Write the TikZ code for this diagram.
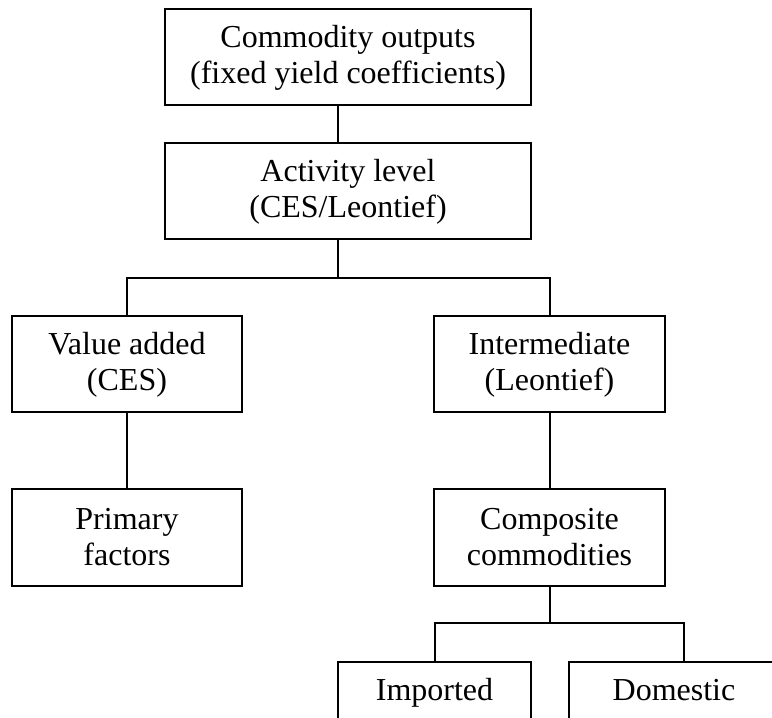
\documentclass[tikz,border=0pt]{standalone}
\usepackage{fontspec}
\setmainfont{Liberation Serif}
\newcommand{\lnstrut}{\rule[-4pt]{0pt}{28pt}}
\newcommand{\lowstrut}{\rule[-44pt]{0pt}{68pt}}
\begin{document}
\begin{tikzpicture}[x=1pt,y=-1pt,
  box/.style={draw=black, line width=2pt, rectangle, inner sep=0pt, align=center,
    font=\fontsize{32}{36}\selectfont},
  link/.style={draw=black, line width=2pt}]
\useasboundingbox (0,0) rectangle (772,718);
\clip (0,0) rectangle (772,718);
\node[box, minimum width=366pt, minimum height=96pt] (top) at (348,57)
  {\lnstrut Commodity outputs\\\lnstrut (fixed yield coefficients)};
\node[box, minimum width=366pt, minimum height=96pt] (act) at (348,191)
  {\lnstrut Activity level\\\lnstrut (CES/Leontief)};
\node[box, minimum width=230pt, minimum height=96pt] (va) at (127,364)
  {\lnstrut Value added\\\lnstrut (CES)};
\node[box, minimum width=231pt, minimum height=96pt] (inter) at (549.5,364)
  {\lnstrut Intermediate\\\lnstrut (Leontief)};
\node[box, minimum width=230pt, minimum height=97pt] (prim) at (127,537)
  {\lnstrut Primary\\\lnstrut factors};
\node[box, minimum width=231pt, minimum height=97pt] (comp) at (549.5,537)
  {\lnstrut Composite\\\lnstrut commodities};
\node[box, minimum width=193pt, minimum height=96pt] (imp) at (434.5,710)
  {\lowstrut Imported};
\node[box, minimum width=210pt, minimum height=96pt] (dom) at (674,710)
  {\lowstrut Domestic};
\coordinate (j0) at (338,124);
\coordinate (j1) at (338,278);
\coordinate (j2) at (550,623);
\coordinate (dx) at (684,662);
\draw[link] (top.south -| j0) -- (act.north -| j0);
\draw[link] (act.south -| j1) -- (j1) -| (va.north);
\draw[link] (j1) -| (inter.north);
\draw[link] (va.south) -- (prim.north);
\draw[link] (inter.south) -- (comp.north);
\draw[link] (comp.south -| j2) -- (j2) -| (imp.north);
\draw[link] (j2) -| (dom.north -| dx);
\end{tikzpicture}
\end{document}
